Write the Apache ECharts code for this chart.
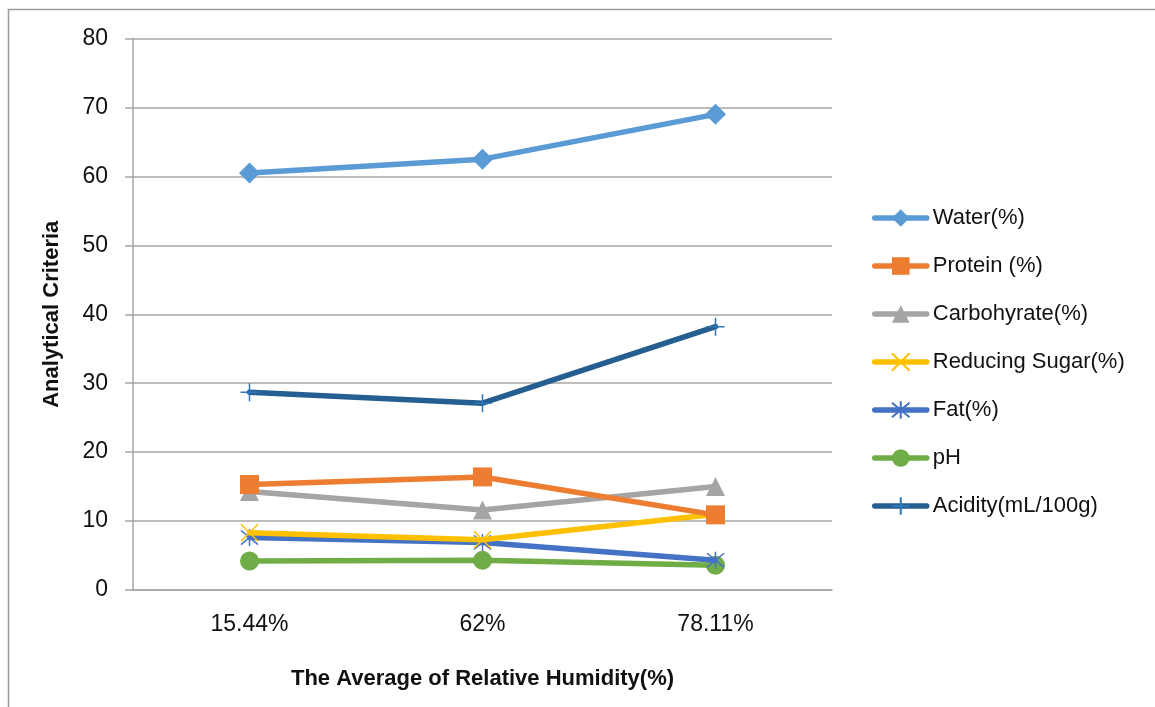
<!DOCTYPE html>
<html>
<head>
<meta charset="utf-8">
<script src="https://cdn.jsdelivr.net/npm/echarts@6/dist/echarts.min.js"></script>
<style>
html,body{margin:0;padding:0;background:#fff;}
#chart{width:1155px;height:707px;}
</style>
</head>
<body>
<div id="chart"></div>
<script>
const categories = ['15.44%', '62%', '78.11%'];
const seriesNames = ['Water(%)', 'Protein (%)', 'Carbohyrate(%)', 'Reducing Sugar(%)', 'Fat(%)', 'pH', 'Acidity(mL/100g)'];
const water = [60.5, 62.5, 69.0];
const protein = [15.3, 16.4, 10.9];
const carbohydrate = [14.3, 11.6, 15.0];
const reducingSugar = [8.3, 7.3, 11.0];
const fat = [7.6, 6.9, 4.3];
const pH = [4.2, 4.3, 3.6];
const acidity = [28.7, 27.1, 38.2];
const yTicks = [0, 10, 20, 30, 40, 50, 60, 70, 80];

const colors = ['#5B9BD5', '#ED7D31', '#A5A5A5', '#FFC000', '#4472C4', '#70AD47', '#255E91'];
const dataList = [water, protein, carbohydrate, reducingSugar, fat, pH, acidity];
const symbols = [
  'diamond', 'rect', 'triangle',
  'path://M0,0L10,10M10,0L0,10',
  'path://M0,0L10,10M10,0L0,10M5,-1L5,11',
  'circle',
  'path://M5,0L5,10M0,5L10,5'
];
const sizes = [21, 19, 19, 17, 17, 19, 18];
const strokeOnly = [false, false, false, true, true, false, true];

const chart = echarts.init(document.getElementById('chart'), null, {renderer: 'canvas'});
const font = 'Liberation Sans';

const series = seriesNames.map((n, i) => ({
  name: n,
  type: 'line',
  data: dataList[i],
  symbol: symbols[i],
  symbolSize: sizes[i],
  showAllSymbol: true,
  lineStyle: {color: colors[i], width: 5.5, cap: 'round', join: 'round'},
  itemStyle: strokeOnly[i]
    ? {color: 'rgba(0,0,0,0)', borderColor: i === 6 ? '#2E75B6' : colors[i], borderWidth: 1.5}
    : {color: colors[i], borderWidth: 0},
  emphasis: {disabled: true},
  animation: false,
  z: 10 - i
}));

chart.setOption({
  animation: false,
  backgroundColor: '#fff',
  color: colors,
  graphic: [{
    type: 'rect',
    shape: {x: 8.5, y: 9.5, width: 1300, height: 900},
    style: {fill: 'none', stroke: '#9a9a9a', lineWidth: 1.5},
    silent: true
  }],
  grid: {left: 133, right: 323, top: 38.5, bottom: 117, containLabel: false},
  legend: {
    orient: 'vertical',
    left: 867,
    top: 202,
    itemWidth: 52,
    itemHeight: 22,
    itemGap: 26,
    lineStyle: {width: 5.5},
    textStyle: {fontFamily: font, fontSize: 22, color: '#111', padding: [0,0,0,1]},
    data: seriesNames
  },
  xAxis: {
    type: 'category',
    data: categories,
    boundaryGap: true,
    axisLine: {show: true, lineStyle: {color: '#a6a6a6', width: 1.5}},
    axisTick: {show: false},
    axisLabel: {fontFamily: font, fontSize: 23, color: '#111', margin: 23},
    name: 'The Average of Relative Humidity(%)',
    nameLocation: 'middle',
    nameGap: 78,
    nameTextStyle: {fontFamily: font, fontSize: 22, fontWeight: 'bold', color: '#111'}
  },
  yAxis: {
    type: 'value',
    min: yTicks[0],
    max: yTicks[yTicks.length - 1],
    interval: 10,
    axisLine: {show: true, lineStyle: {color: '#a6a6a6', width: 1.5}},
    axisTick: {show: true, length: 8, lineStyle: {color: '#a6a6a6', width: 1.5}},
    splitLine: {show: true, lineStyle: {color: '#a6a6a6', width: 1.5}},
    axisLabel: {fontFamily: font, fontSize: 23, color: '#111', margin: 25},
    name: 'Analytical Criteria',
    nameLocation: 'middle',
    nameGap: 70,
    nameTextStyle: {fontFamily: font, fontSize: 22, fontWeight: 'bold', color: '#111'}
  },
  series: series
});
</script>
</body>
</html>
